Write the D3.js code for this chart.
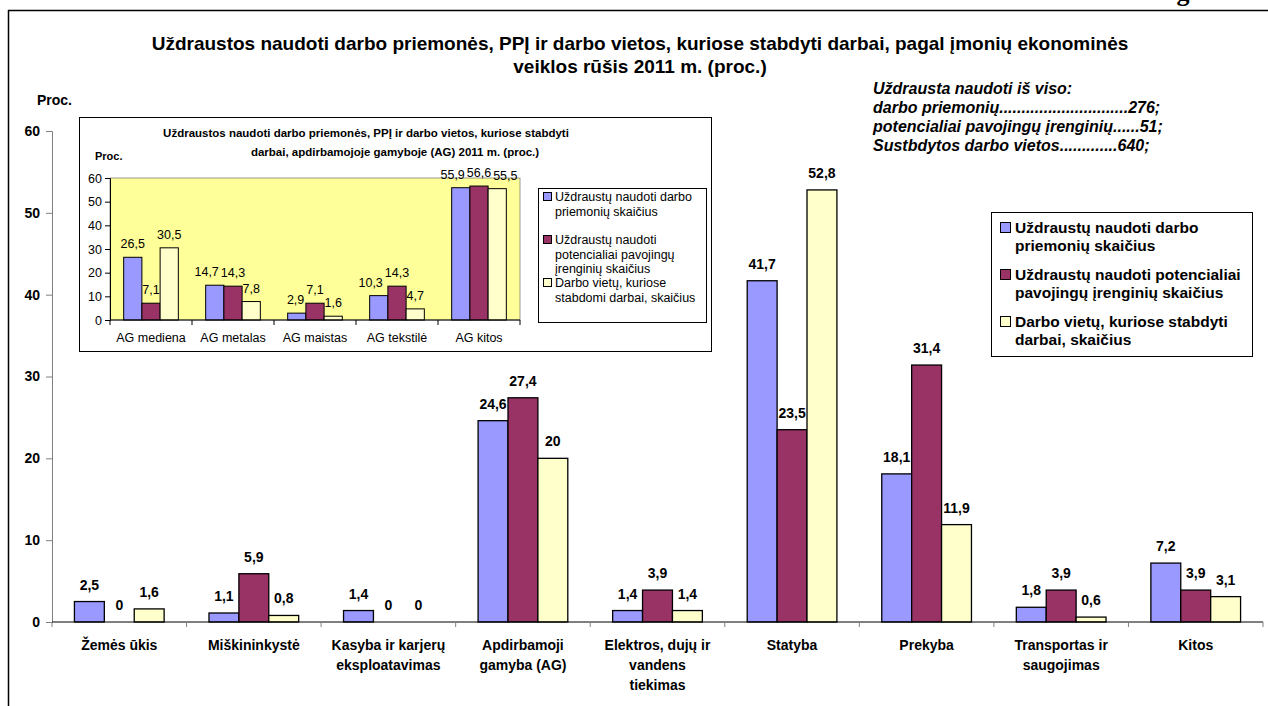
<!DOCTYPE html>
<html>
<head>
<meta charset="utf-8">
<script src="https://cdn.jsdelivr.net/npm/d3@7"></script>
<style>
html,body{margin:0;padding:0;background:#fff;}
svg{display:block;font-family:Arial,"Liberation Sans",sans-serif;}
</style>
</head>
<body>
<svg id="chart" width="1268" height="706"></svg>
<script>
// ---------- DATA ----------
const categories = ["Žemės ūkis", "Miškininkystė", "Kasyba ir karjerų\neksploatavimas", "Apdirbamoji\ngamyba (AG)", "Elektros, dujų ir\nvandens\ntiekimas", "Statyba", "Prekyba", "Transportas ir\nsaugojimas", "Kitos"];
const seriesNames = ["Uždraustų naudoti darbo\npriemonių skaičius", "Uždraustų naudoti potencialiai\npavojingų įrenginių skaičius", "Darbo vietų, kuriose stabdyti\ndarbai, skaičius"];
const toolsValues = [2.5, 1.1, 1.4, 24.6, 1.4, 41.7, 18.1, 1.8, 7.2];
const equipmentValues = [0, 5.9, 0, 27.4, 3.9, 23.5, 31.4, 3.9, 3.9];
const workplaceValues = [1.6, 0.8, 0, 20, 1.4, 52.8, 11.9, 0.6, 3.1];
const yTicks = [0, 10, 20, 30, 40, 50, 60];

const insetCategories = ["AG mediena", "AG metalas", "AG maistas", "AG tekstilė", "AG kitos"];
const insetSeriesNames = ["Uždraustų naudoti darbo\npriemonių skaičius", "Uždraustų naudoti\npotencialiai pavojingų\nįrenginių skaičius", "Darbo vietų, kuriose\nstabdomi darbai, skaičius"];
const insetTools = [26.5, 14.7, 2.9, 10.3, 55.9];
const insetEquipment = [7.1, 14.3, 7.1, 14.3, 56.6];
const insetWorkplaces = [30.5, 7.8, 1.6, 4.7, 55.5];
const insetTicks = [0, 10, 20, 30, 40, 50, 60];

const titleLines = ["Uždraustos naudoti darbo priemonės, PPĮ ir darbo vietos, kuriose stabdyti darbai, pagal įmonių ekonominės", "veiklos rūšis 2011 m. (proc.)"];
const insetTitleLines = ["Uždraustos naudoti darbo priemonės, PPĮ ir darbo vietos, kuriose stabdyti", "darbai, apdirbamojoje gamyboje (AG) 2011 m. (proc.)"];
const noteLines = ["Uždrausta naudoti iš viso:", "darbo priemonių" + ".".repeat(29) + "276;", "potencialiai pavojingų įrenginių" + ".".repeat(6) + "51;", "Sustbdytos darbo vietos" + ".".repeat(13) + "640;"];

const colors = ["#9999FF", "#993366", "#FFFFCC"];

// ---------- HELPERS ----------
const fmt = v => String(v).replace(".", ",");
const svg = d3.select("#chart");

// page frame
svg.append("text").attr("x", 1183).attr("y", 1).attr("text-anchor", "middle")
  .style("font-family", "'Liberation Serif','Times New Roman',serif").style("font-weight", "bold").style("font-size", "26px").text("g");
svg.append("line").attr("x1", 8).attr("x2", 1268).attr("y1", 10.5).attr("y2", 10.5).attr("stroke", "#000").attr("stroke-width", 1.5);
svg.append("line").attr("x1", 8.5).attr("x2", 8.5).attr("y1", 10).attr("y2", 706).attr("stroke", "#000").attr("stroke-width", 1.5);

// title
svg.append("g").selectAll("text").data(titleLines).join("text")
  .attr("x", 640).attr("y", (d, i) => 50 + i * 23).attr("text-anchor", "middle")
  .style("font-weight", "bold").style("font-size", "19px").text(d => d);

// ---------- MAIN CHART ----------
const x = d3.scaleBand().domain(categories).range([52, 1263]).paddingInner(0).paddingOuter(0);
const xs = d3.scaleBand().domain([0, 1, 2]).range([0, x.bandwidth()]).paddingInner(0).paddingOuter(0.75);
const y = d3.scaleLinear().domain([0, 60]).range([622, 131]);

const mainSeries = [toolsValues, equipmentValues, workplaceValues];
const mainData = [];
categories.forEach((c, i) => mainSeries.forEach((s, k) => mainData.push({c, k, v: s[i]})));

const main = svg.append("g");
main.selectAll("rect").data(mainData).join("rect")
  .attr("x", d => x(d.c) + xs(d.k)).attr("width", xs.bandwidth())
  .attr("y", d => y(d.v)).attr("height", d => y(0) - y(d.v))
  .attr("fill", d => colors[d.k]).attr("stroke", "#000").attr("stroke-width", 1.3);

main.selectAll("text.lbl").data(mainData).join("text").attr("class", "lbl")
  .attr("x", d => x(d.c) + xs(d.k) + xs.bandwidth() / 2).attr("y", d => y(d.v) - 12)
  .attr("text-anchor", "middle").style("font-weight", "bold").style("font-size", "14px")
  .text(d => fmt(d.v));

// y axis
const yAxis = main.append("g").attr("transform", "translate(52,0)")
  .call(d3.axisLeft(y).tickValues(yTicks).tickSize(6).tickPadding(6).tickFormat(d => d));
yAxis.select(".domain").attr("stroke", "#808080");
yAxis.selectAll(".tick line").attr("stroke", "#808080");
yAxis.selectAll("text").style("font-weight", "bold").style("font-size", "14px").attr("fill", "#000").style("font-family", "Arial,'Liberation Sans',sans-serif");

// x axis
const bounds = categories.map(c => x(c)).concat([x.range()[1]]);
const xAxisG = main.append("g");
xAxisG.append("line").attr("x1", 52).attr("x2", x.range()[1]).attr("y1", y(0)).attr("y2", y(0)).attr("stroke", "#000");
xAxisG.selectAll("line.t").data(bounds).join("line").attr("class", "t")
  .attr("x1", d => d).attr("x2", d => d).attr("y1", y(0)).attr("y2", y(0) + 5).attr("stroke", "#808080");

const catG = main.append("g").selectAll("text").data(categories).join("text")
  .attr("text-anchor", "middle").style("font-weight", "bold").style("font-size", "14px");
catG.each(function(c) {
  const t = d3.select(this);
  c.split("\n").forEach((line, i) => {
    t.append("tspan").attr("x", x(c) + x.bandwidth() / 2).attr("y", 650 + i * 20).text(line);
  });
});

svg.append("text").attr("x", 37).attr("y", 105).style("font-weight", "bold").style("font-size", "14px").text("Proc.");

// note
svg.append("g").selectAll("text").data(noteLines).join("text")
  .attr("x", 873).attr("y", (d, i) => 94 + i * 19)
  .style("font-weight", "bold").style("font-style", "italic").style("font-size", "16px").text(d => d);

// main legend
const leg = svg.append("g");
leg.append("rect").attr("x", 991.5).attr("y", 212.5).attr("width", 261).attr("height", 144).attr("fill", "#fff").attr("stroke", "#000");
const legY = [233, 280, 327];
seriesNames.forEach((n, k) => {
  leg.append("rect").attr("x", 1000.5).attr("y", legY[k] - 10.5).attr("width", 10).attr("height", 10)
    .attr("fill", colors[k]).attr("stroke", "#000");
  const t = leg.append("text").style("font-weight", "bold").style("font-size", "15.5px");
  n.split("\n").forEach((line, i) => t.append("tspan").attr("x", 1015).attr("y", legY[k] + i * 18).text(line));
});

// ---------- INSET CHART ----------
const ins = svg.append("g");
ins.append("rect").attr("x", 79.5).attr("y", 117.5).attr("width", 632).attr("height", 234).attr("fill", "#fff").attr("stroke", "#000");
ins.selectAll("text.it").data(insetTitleLines).join("text").attr("class", "it")
  .attr("x", (d, i) => i === 0 ? 366 : 395).attr("y", (d, i) => 137 + i * 19).attr("text-anchor", "middle")
  .style("font-weight", "bold").style("font-size", "11.5px").text(d => d);
ins.append("text").attr("x", 95).attr("y", 160).style("font-weight", "bold").style("font-size", "11px").text("Proc.");

const ix = d3.scaleBand().domain(insetCategories).range([110, 520]);
const ixs = d3.scaleBand().domain([0, 1, 2]).range([0, ix.bandwidth()]).paddingInner(0).paddingOuter(0.75);
const iy = d3.scaleLinear().domain([0, 60]).range([320, 178]);

ins.append("rect").attr("x", 110).attr("y", 178).attr("width", 410).attr("height", 142).attr("fill", "#FFFF99").attr("stroke", "#808080").attr("stroke-width", 0.8);

const insetSeries = [insetTools, insetEquipment, insetWorkplaces];
const insetData = [];
insetCategories.forEach((c, i) => insetSeries.forEach((s, k) => insetData.push({c, k, v: s[i]})));

ins.selectAll("rect.b").data(insetData).join("rect").attr("class", "b")
  .attr("x", d => ix(d.c) + ixs(d.k)).attr("width", ixs.bandwidth())
  .attr("y", d => iy(d.v)).attr("height", d => iy(0) - iy(d.v))
  .attr("fill", d => colors[d.k]).attr("stroke", "#000").attr("stroke-width", 1);
const ilabels = ins.selectAll("text.l").data(insetData).join("text").attr("class", "l")
  .attr("x", d => ix(d.c) + ixs(d.k) + ixs.bandwidth() / 2).attr("y", d => iy(d.v) - 9)
  .attr("text-anchor", "middle").style("font-size", "12.5px").text(d => fmt(d.v));

// nudge side labels away from the middle label when they collide
ilabels.each(function(d) { d.w = this.getComputedTextLength(); d.cx = +d3.select(this).attr("x"); d.by = +d3.select(this).attr("y"); });
insetCategories.forEach(c => {
  const g = insetData.filter(d => d.c === c);
  const mid = g[1];
  const l = g[0], r = g[2];
  if (Math.abs(l.by - mid.by) < 12) {
    const over = (l.cx + l.w / 2 + 2) - (mid.cx - mid.w / 2);
    if (over > 0) l.cx -= over;
  }
  if (Math.abs(r.by - mid.by) < 12) {
    const over = (mid.cx + mid.w / 2 + 2) - (r.cx - r.w / 2);
    if (over > 0) r.cx += over;
  }
});
ilabels.attr("x", d => d.cx);

const iyAxis = ins.append("g").attr("transform", "translate(110,0)")
  .call(d3.axisLeft(iy).tickValues(insetTicks).tickSize(5).tickPadding(3).tickFormat(d => d));
iyAxis.selectAll("text").style("font-size", "12.5px").style("font-family", "Arial,'Liberation Sans',sans-serif");
const ibounds = insetCategories.map(c => ix(c)).concat([ix.range()[1]]);
ins.append("line").attr("x1", 110).attr("x2", 520).attr("y1", iy(0)).attr("y2", iy(0)).attr("stroke", "#000");
ins.selectAll("line.t").data(ibounds).join("line").attr("class", "t")
  .attr("x1", d => d).attr("x2", d => d).attr("y1", iy(0)).attr("y2", iy(0) + 5).attr("stroke", "#000");
ins.selectAll("text.c").data(insetCategories).join("text").attr("class", "c")
  .attr("x", d => ix(d) + ix.bandwidth() / 2).attr("y", 342).attr("text-anchor", "middle")
  .style("font-size", "12.5px").text(d => d);

// inset legend
ins.append("rect").attr("x", 538.5).attr("y", 188.5).attr("width", 168).attr("height", 134).attr("fill", "#fff").attr("stroke", "#000");
const ilegY = [201, 244, 287];
insetSeriesNames.forEach((n, k) => {
  ins.append("rect").attr("x", 543.5).attr("y", ilegY[k] - 8.5).attr("width", 8).attr("height", 8)
    .attr("fill", colors[k]).attr("stroke", "#000");
  const t = ins.append("text").style("font-size", "12.5px");
  n.split("\n").forEach((line, i) => t.append("tspan").attr("x", 555).attr("y", ilegY[k] + i * 14.5).text(line));
});
</script>
</body>
</html>
